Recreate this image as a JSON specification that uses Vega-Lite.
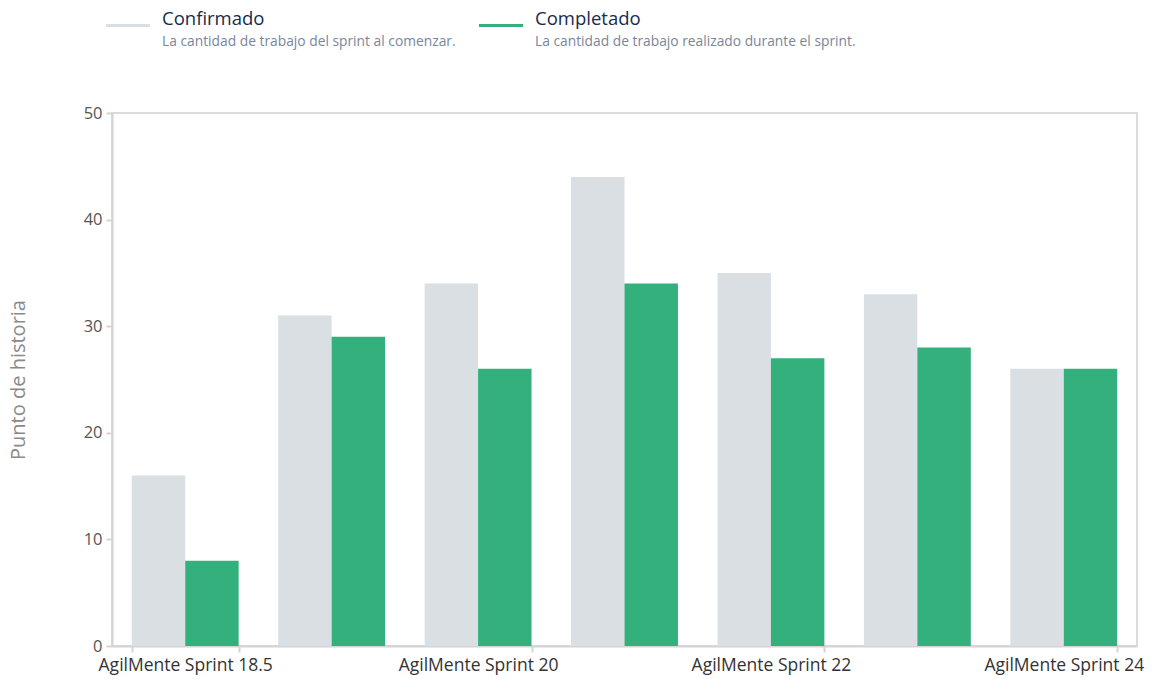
{
  "$schema": "https://vega.github.io/schema/vega-lite/v6.json",
  "autosize": {"type": "pad"},
  "padding": {"left": 7, "top": 5, "right": 0, "bottom": 0},
  "bounds": "flush",
  "spacing": 67,
  "background": "white",
  "config": {
    "font": "Open Sans",
    "axis": {"labelFont": "Open Sans", "titleFont": "Open Sans"}
  },
  "datasets": {
    "legend": [
      {"series": "Confirmado", "desc": "La cantidad de trabajo del sprint al comenzar."},
      {"series": "Completado", "desc": "La cantidad de trabajo realizado durante el sprint."}
    ],
    "bars": [
      {"sprint": "AgilMente Sprint 18.5", "series": "Confirmado", "value": 16},
      {"sprint": "AgilMente Sprint 18.5", "series": "Completado", "value": 8},
      {"sprint": "AgilMente Sprint 19", "series": "Confirmado", "value": 31},
      {"sprint": "AgilMente Sprint 19", "series": "Completado", "value": 29},
      {"sprint": "AgilMente Sprint 20", "series": "Confirmado", "value": 34},
      {"sprint": "AgilMente Sprint 20", "series": "Completado", "value": 26},
      {"sprint": "AgilMente Sprint 21", "series": "Confirmado", "value": 44},
      {"sprint": "AgilMente Sprint 21", "series": "Completado", "value": 34},
      {"sprint": "AgilMente Sprint 22", "series": "Confirmado", "value": 35},
      {"sprint": "AgilMente Sprint 22", "series": "Completado", "value": 27},
      {"sprint": "AgilMente Sprint 23", "series": "Confirmado", "value": 33},
      {"sprint": "AgilMente Sprint 23", "series": "Completado", "value": 28},
      {"sprint": "AgilMente Sprint 24", "series": "Confirmado", "value": 26},
      {"sprint": "AgilMente Sprint 24", "series": "Completado", "value": 26}
    ]
  },
  "vconcat": [
    {
      "width": 405,
      "height": 41,
      "view": {"stroke": null},
      "data": {"name": "legend"},
      "encoding": {
        "x": {"field": "series", "type": "nominal", "sort": ["Confirmado", "Completado"], "scale": {"type": "point", "padding": 0.0429}, "axis": null}
      },
      "layer": [
        {
          "mark": {"type": "point", "shape": "stroke", "size": 1936, "strokeWidth": 3, "filled": false, "opacity": 1},
          "encoding": {
            "stroke": {"field": "series", "type": "nominal", "scale": {"domain": ["Confirmado", "Completado"], "range": ["#dadfe3", "#33b07c"]}, "legend": null}
          }
        },
        {
          "mark": {"type": "text", "align": "left", "baseline": "alphabetic", "dx": 34, "dy": -1, "fontSize": 18.5, "color": "#172b4d"},
          "encoding": {"text": {"field": "series"}}
        },
        {
          "mark": {"type": "text", "align": "left", "baseline": "alphabetic", "dx": 34, "dy": 20.5, "fontSize": 13.8, "color": "#7a869a"},
          "encoding": {"text": {"field": "desc"}}
        }
      ]
    },
    {
      "width": 1025,
      "height": 533,
      "view": {"stroke": "#dcdcdc", "strokeWidth": 2},
      "data": {"name": "bars"},
      "mark": {"type": "bar"},
      "encoding": {
        "x": {
          "field": "sprint", "type": "nominal",
          "sort": ["AgilMente Sprint 18.5", "AgilMente Sprint 19", "AgilMente Sprint 20", "AgilMente Sprint 21", "AgilMente Sprint 22", "AgilMente Sprint 23", "AgilMente Sprint 24"],
          "scale": {"paddingInner": 0.27, "paddingOuter": 0.135},
          "axis": {
            "title": null, "labelAngle": 0, "tickBand": "extent",
            "values": ["AgilMente Sprint 18.5", "AgilMente Sprint 20", "AgilMente Sprint 22", "AgilMente Sprint 24"],
            "labelFontSize": 17.5, "labelColor": "#333333", "labelPadding": 4, "tickSize": 6,
            "domainColor": "#d4d4d4", "domainWidth": 2, "tickColor": "#d4d4d4", "tickWidth": 2,
            "labelOverlap": false
          }
        },
        "xOffset": {"field": "series", "type": "nominal", "sort": ["Confirmado", "Completado"], "scale": {"paddingInner": 0}},
        "y": {
          "field": "value", "type": "quantitative",
          "scale": {"domain": [0, 50]},
          "axis": {
            "values": [0, 10, 20, 30, 40, 50], "grid": false,
            "title": "Punto de historia", "titleFontSize": 20, "titleFontWeight": "normal", "titleColor": "#8a8a8a", "titlePadding": 55,
            "labelFontSize": 16.5, "labelColor": "#555555", "labelPadding": 4, "tickSize": 6,
            "domainColor": "#d4d4d4", "domainWidth": 2, "tickColor": "#d4d4d4", "tickWidth": 2
          }
        },
        "color": {"field": "series", "type": "nominal", "scale": {"domain": ["Confirmado", "Completado"], "range": ["#dadfe3", "#33b07c"]}, "legend": null}
      }
    }
  ]
}
